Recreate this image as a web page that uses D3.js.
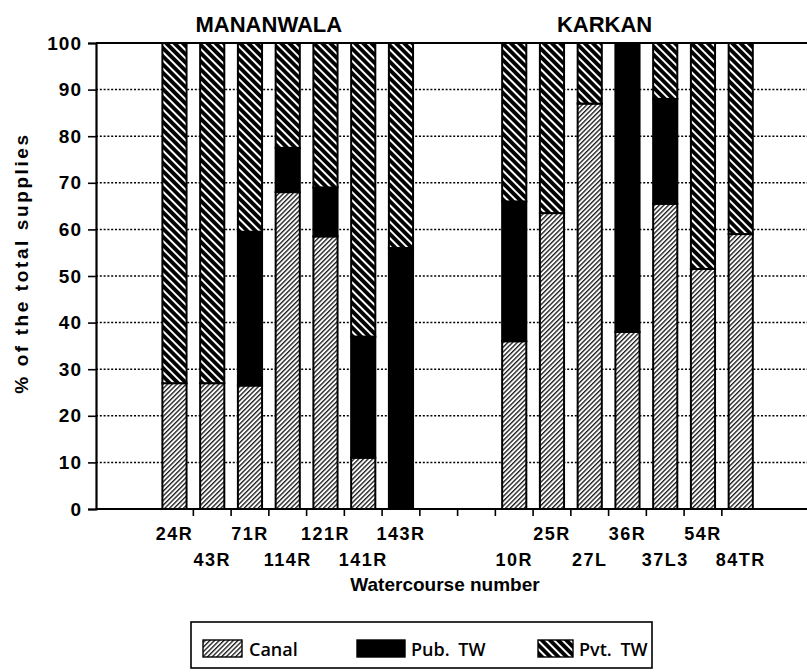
<!DOCTYPE html>
<html>
<head>
<meta charset="utf-8">
<script src="https://cdn.jsdelivr.net/npm/d3@7"></script>
<style>
  body { margin: 0; background: #fff; }
  svg { display: block; font-family: "Liberation Sans", Arial, sans-serif; }
</style>
</head>
<body>
<div id="chart"></div>
<script>
const width = 807;
const height = 672;
const margin = { top: 43, right: 0, bottom: 163, left: 96 };

// watercourses, in the order they sit on the axis
const mananwala = ['24R', '43R', '71R', '114R', '121R', '141R', '143R'];
const karkan = ['10R', '25R', '27L', '36R', '37L3', '54R', '84TR'];
const gaps = ['gap1', 'gap2'];
const slots = [...mananwala, ...gaps, ...karkan];
const watercourses = [...mananwala, ...karkan];

// % of the total supplies
const canal = [27, 27, 26.5, 68, 58.5, 11, 0, 36, 63.5, 87, 38, 65.5, 51.5, 59];
const pubTW = [0, 0, 33, 9.5, 10.5, 26, 56, 30, 0, 0, 62, 22.5, 0, 0];
const pvtTW = [73, 73, 40.5, 22.5, 31, 63, 44, 34, 36.5, 13, 0, 12, 48.5, 41];

const yTicks = [0, 10, 20, 30, 40, 50, 60, 70, 80, 90, 100];
const sources = ['Canal', 'Pub. TW', 'Pvt. TW'];
const sourceKeys = ['canal', 'pub', 'pvt'];

const svg = d3.select('#chart')
  .append('svg')
  .attr('width', width)
  .attr('height', height);

// motifs de hachures
const defs = svg.append('defs');

const canalPat = defs.append('pattern')
  .attr('id', 'canal')
  .attr('patternUnits', 'userSpaceOnUse')
  .attr('width', 3.3)
  .attr('height', 10)
  .attr('patternTransform', 'rotate(45)');
canalPat.append('rect').attr('width', 3.3).attr('height', 10).attr('fill', '#fff');
canalPat.append('line')
  .attr('x1', 0.7).attr('y1', 0).attr('x2', 0.7).attr('y2', 10)
  .attr('stroke', '#000').attr('stroke-width', 1.2);

const pvtPat = defs.append('pattern')
  .attr('id', 'pvt')
  .attr('patternUnits', 'userSpaceOnUse')
  .attr('width', 5.8)
  .attr('height', 10)
  .attr('patternTransform', 'rotate(-45)');
pvtPat.append('rect').attr('width', 5.8).attr('height', 10).attr('fill', '#000');
pvtPat.append('line')
  .attr('x1', 2.9).attr('y1', 0).attr('x2', 2.9).attr('y2', 10)
  .attr('stroke', '#fff').attr('stroke-width', 2);

const fills = { canal: 'url(#canal)', pub: '#000', pvt: 'url(#pvt)' };

// échelles
const x = d3.scaleBand()
  .domain(slots)
  .range([155.6, 759.6])
  .paddingInner(0.36)
  .paddingOuter(0.18);

const y = d3.scaleLinear()
  .domain([0, 100])
  .range([height - margin.bottom, margin.top]);

const step = x.step();
const slotStart = d => x(d) - step * 0.18;

// grille pointillée
svg.append('g')
  .selectAll('line')
  .data(yTicks.filter(d => d > 0 && d < 100))
  .join('line')
  .attr('x1', margin.left)
  .attr('x2', width)
  .attr('y1', d => y(d))
  .attr('y2', d => y(d))
  .attr('stroke', '#000')
  .attr('stroke-width', 1.5)
  .attr('stroke-dasharray', '2,1.8');

// ligne du haut
svg.append('line')
  .attr('x1', margin.left).attr('x2', width)
  .attr('y1', y(100)).attr('y2', y(100))
  .attr('stroke', '#000').attr('stroke-width', 2);

// empiler les données
const rows = watercourses.map((w, i) => ({ name: w, canal: canal[i], pub: pubTW[i], pvt: pvtTW[i] }));
const stacked = d3.stack().keys(sourceKeys)(rows);

svg.append('g')
  .selectAll('g')
  .data(stacked)
  .join('g')
  .attr('fill', d => fills[d.key])
  .selectAll('rect')
  .data(d => d.filter(s => s[1] - s[0] > 0))
  .join('rect')
  .attr('x', d => x(d.data.name))
  .attr('width', x.bandwidth())
  .attr('y', d => y(d[1]))
  .attr('height', d => y(d[0]) - y(d[1]))
  .attr('stroke', '#000')
  .attr('stroke-width', 2);

// axe vertical
const yAxis = svg.append('g')
  .attr('transform', `translate(${margin.left}, 0)`)
  .call(d3.axisLeft(y).tickValues(yTicks).tickSize(8).tickPadding(6))
  .call(g => g.select('.domain').attr('stroke-width', 2.2))
  .call(g => g.selectAll('.tick line').attr('stroke-width', 1.6));
yAxis.selectAll('text')
  .attr('font-size', '19px')
  .attr('font-weight', 'bold')
  .attr('font-family', '"Liberation Sans", Arial, sans-serif')
  .attr('letter-spacing', '1px')
  .attr('fill', '#000');

// axe horizontal, avec traits entre les catégories
svg.append('line')
  .attr('x1', margin.left).attr('x2', width)
  .attr('y1', y(0)).attr('y2', y(0))
  .attr('stroke', '#000').attr('stroke-width', 2.2);

svg.append('g')
  .selectAll('line')
  .data(slots.slice(1))
  .join('line')
  .attr('x1', d => slotStart(d))
  .attr('x2', d => slotStart(d))
  .attr('y1', y(0))
  .attr('y2', y(0) + 7)
  .attr('stroke', '#000')
  .attr('stroke-width', 1.6);

svg.append('g')
  .selectAll('text')
  .data(watercourses)
  .join('text')
  .attr('x', d => x(d) + x.bandwidth() / 2)
  .attr('y', d => slots.indexOf(d) % 2 === 0 ? 540 : 566)
  .attr('text-anchor', 'middle')
  .attr('font-size', '18px')
  .attr('font-weight', 'bold')
  .attr('letter-spacing', '1.5px')
  .text(d => d);

// titres des groupes
svg.append('text')
  .attr('x', slotStart(mananwala[2]) + step)
  .attr('y', 32)
  .attr('text-anchor', 'middle')
  .attr('font-size', '22px')
  .attr('font-weight', 'bold')
  .text('MANANWALA');

svg.append('text')
  .attr('x', slotStart(karkan[2]) + step - 4)
  .attr('y', 32)
  .attr('text-anchor', 'middle')
  .attr('font-size', '22px')
  .attr('font-weight', 'bold')
  .text('KARKAN');

// titres des axes
svg.append('text')
  .attr('transform', 'translate(28, 263) rotate(-90)')
  .attr('text-anchor', 'middle')
  .attr('font-size', '19px')
  .attr('font-weight', 'bold')
  .attr('letter-spacing', '2.6px')
  .text('% of the total supplies');

svg.append('text')
  .attr('x', 445)
  .attr('y', 591)
  .attr('text-anchor', 'middle')
  .attr('font-size', '19px')
  .attr('font-weight', 'bold')
  .text('Watercourse number');

// légende
const legend = svg.append('g');
legend.append('rect')
  .attr('x', 191).attr('y', 622)
  .attr('width', 461).attr('height', 46)
  .attr('fill', 'none')
  .attr('stroke', '#000')
  .attr('stroke-width', 1.6);

const legendPos = [
  { sx: 203, sw: 39, tx: 249 },
  { sx: 357, sw: 48, tx: 411 },
  { sx: 538, sw: 35, tx: 579 }
];

legend.selectAll('g')
  .data(sources)
  .join('g')
  .each(function (d, i) {
    const g = d3.select(this);
    const p = legendPos[i];
    g.append('rect')
      .attr('x', p.sx).attr('y', 640)
      .attr('width', p.sw).attr('height', 17)
      .attr('fill', fills[sourceKeys[i]])
      .attr('stroke', '#000')
      .attr('stroke-width', 1.4);
    g.append('text')
      .attr('x', p.tx)
      .attr('y', 656)
      .attr('font-family', '"Open Sans", "Noto Sans", sans-serif')
      .attr('font-size', '18px')
      .attr('font-weight', 600)
      .attr('word-spacing', '4px')
      .text(d);
  });
</script>
</body>
</html>
